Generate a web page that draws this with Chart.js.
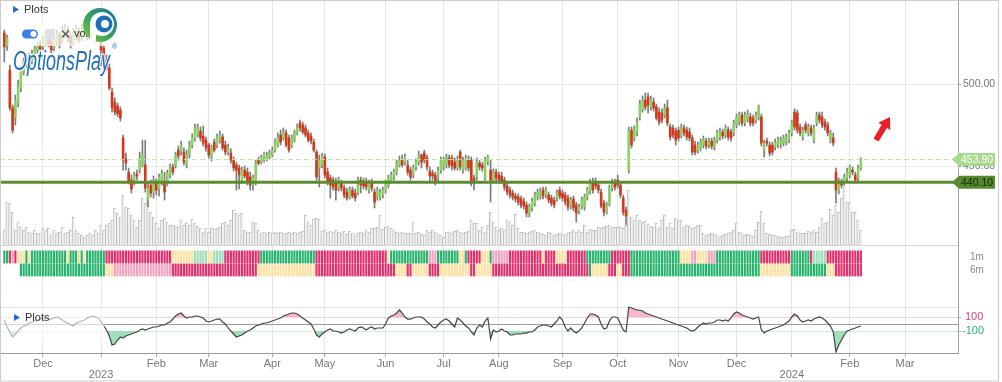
<!DOCTYPE html>
<html>
<head>
<meta charset="utf-8">
<script src="https://cdn.jsdelivr.net/npm/chart.js@4.4.1/dist/chart.umd.min.js"></script>
<style>
  html, body { margin: 0; padding: 0; background: #fff; }
  #wrap { width: 1002px; height: 382px; }
</style>
</head>
<body>
<div id="wrap"><canvas id="chart" width="1002" height="382"></canvas></div>
<script>
// ========== Data ==========
// x is a trading-day index: 0 = 1 Dec 2022, first candle = 10 Nov 2022
const firstDay = -14;
const axisMin = -15.56;
const axisMax = 331.16;

const monthTicks = [0, 21, 41, 60, 83, 102, 124, 145, 165, 188, 208, 230, 251, 271, 292, 312];
const monthLabels = ['Dec', ['', '2023'], 'Feb', 'Mar', 'Apr', 'May', 'Jun', 'Jul', 'Aug', 'Sep', 'Oct', 'Nov', 'Dec', ['', '2024'], 'Feb', 'Mar'];

const openP = [
  531.1, 523.2, 508.5, 485.4, 479.3, 488.4, 497.5, 507.3, 511.6, 516.5, 513.4, 517.1, 520.7, 524.4,
  522.6, 525.0, 529.3, 525.6, 521.9, 525.6, 529.9, 526.8, 529.9, 533.5, 529.3, 525.6, 529.3, 532.3, 528.7, 531.1, 534.1, 529.3, 531.7, 534.1, 529.3,
  528.0, 521.9, 514.6, 509.8, 495.1, 489.0, 486.6, 484.1, 467.1, 454.3, 446.3, 441.4, 440.2, 445.1, 447.5, 451.2, 450.6, 429.2, 438.4, 434.1,
  439.6, 436.0, 441.4, 440.2, 440.2, 444.5, 449.4, 450.6, 459.7, 458.5, 458.5, 450.6, 456.7, 462.8, 467.1, 469.5, 471.3, 468.3, 465.8,
  462.8, 455.5, 464.6, 462.8, 465.8, 467.7, 462.8, 458.5, 457.9, 453.6, 450.6, 448.8, 441.4, 447.5, 446.3, 443.3, 438.4, 439.6, 453.6, 452.4, 453.6, 454.3, 455.5,
  456.7, 459.7, 462.8, 468.9, 467.1, 470.1, 467.1, 462.8, 465.8, 470.1, 476.2, 475.0, 473.2, 470.1, 468.3, 464.6, 458.5, 448.8, 450.6,
  455.5, 446.3, 442.7, 441.4, 440.2, 436.6, 439.6, 436.6, 434.1, 431.1, 435.3, 433.5, 434.1, 441.4, 440.8, 440.8, 435.3, 440.2, 434.1, 431.1, 431.1, 432.3,
  435.3, 438.4, 441.4, 443.3, 446.3, 450.6, 453.6, 452.4, 450.6, 447.5, 444.5, 449.4, 452.4, 456.7, 457.9, 454.9, 446.9, 445.7, 444.5, 443.3, 447.5,
  449.4, 450.6, 454.9, 454.9, 452.4, 449.4, 458.5, 447.5, 449.4, 453.6, 453.6, 442.7, 443.3, 451.8, 450.6, 442.7, 452.4, 447.5, 441.4, 446.3,
  444.5, 443.9, 441.4, 437.8, 435.3, 433.5, 431.7, 431.1, 429.9, 428.6, 426.2, 420.7, 424.4, 427.4, 431.1, 431.7, 435.3, 432.3, 432.3, 430.5, 429.2, 430.5, 435.3,
  433.5, 432.3, 430.5, 425.6, 429.9, 426.2, 422.5, 425.6, 425.0, 431.1, 434.7, 439.6, 439.6, 438.4, 434.1, 427.4, 422.5, 427.4, 436.6, 439.6,
  441.4, 438.4, 430.5, 423.1, 447.5, 471.9, 467.1, 470.1, 479.9, 484.1, 490.2, 492.1, 486.0, 489.0, 486.0, 482.9, 482.3, 481.1, 485.4, 473.8, 473.2, 471.3,
  471.9, 468.9, 473.2, 471.9, 470.7, 467.1, 462.8, 459.7, 461.0, 462.8, 465.2, 462.8, 465.2, 461.6, 465.8, 467.7, 470.7, 468.9, 471.9, 470.7, 470.1,
  475.0, 476.8, 481.1, 476.2, 478.6, 479.9, 479.3, 478.0, 479.9, 479.9, 459.7, 465.2, 462.8, 462.8, 461.6, 462.8, 463.4, 464.0, 464.6, 465.8,
  470.1, 482.9, 482.3, 473.8, 467.7, 475.0, 470.1, 473.2, 465.8, 476.2, 481.1, 479.9, 476.8, 475.0, 465.8, 467.1, 446.3, 435.3, 440.2, 440.2, 442.7, 444.5, 447.5, 444.5, 442.7, 448.8
];

const highP = [
  532.9, 529.9, 511.6, 487.2, 493.3, 502.4, 510.4, 515.9, 518.3, 518.9, 520.7, 523.8, 525.6, 526.8,
  529.3, 532.9, 531.1, 528.0, 529.3, 532.9, 531.7, 535.4, 536.6, 535.4, 531.7, 534.1, 536.0, 534.1, 536.6, 537.8, 536.0, 535.4, 537.2, 536.6, 534.8,
  529.9, 523.8, 517.7, 512.2, 497.5, 491.5, 488.4, 486.0, 468.9, 457.9, 448.8, 444.5, 446.3, 447.5, 458.5, 465.8, 465.8, 439.6, 441.4, 443.9,
  442.1, 445.1, 447.5, 446.3, 447.5, 451.2, 451.2, 458.5, 462.2, 465.2, 461.0, 459.7, 465.2, 469.5, 475.6, 475.6, 473.8, 474.4, 467.7,
  464.0, 462.8, 466.5, 469.5, 471.3, 469.5, 465.2, 463.4, 460.4, 455.5, 452.4, 450.6, 449.4, 450.0, 448.8, 446.3, 444.5, 453.6, 455.5, 456.7, 458.5, 458.5, 459.7,
  461.6, 466.5, 470.1, 471.9, 473.2, 471.9, 468.9, 468.9, 471.9, 475.6, 478.0, 476.8, 475.0, 471.9, 470.1, 466.5, 459.7, 456.7, 457.9,
  457.3, 448.8, 444.5, 443.3, 442.7, 443.3, 441.4, 438.4, 436.6, 437.2, 437.2, 436.0, 443.3, 443.3, 442.7, 442.7, 441.4, 442.1, 436.0, 437.2, 436.0, 437.2,
  441.4, 444.5, 446.3, 448.2, 453.6, 456.1, 456.7, 457.3, 453.6, 449.4, 450.6, 454.3, 459.1, 457.3, 459.7, 456.7, 449.4, 447.5, 446.3, 449.4, 455.5,
  455.5, 457.3, 456.7, 456.7, 454.9, 456.1, 459.7, 455.5, 456.7, 456.1, 455.5, 444.5, 454.9, 453.6, 452.4, 455.5, 456.7, 453.6, 448.2, 448.2,
  446.3, 446.3, 443.3, 439.6, 437.2, 435.3, 433.5, 432.9, 431.7, 430.5, 428.0, 426.8, 430.5, 434.1, 436.0, 436.6, 437.2, 437.2, 434.1, 432.3, 431.1, 435.3, 437.2,
  435.3, 434.1, 432.3, 431.1, 431.7, 428.0, 426.8, 431.1, 432.9, 437.2, 442.1, 442.7, 442.7, 440.2, 436.0, 429.2, 428.0, 438.4, 442.1, 442.1,
  444.5, 440.2, 432.3, 425.0, 473.8, 473.8, 474.4, 479.3, 490.2, 492.7, 494.5, 494.5, 492.7, 491.5, 487.8, 485.4, 484.8, 487.8, 490.2, 475.6, 475.0, 473.2,
  473.8, 475.6, 475.0, 473.8, 473.2, 468.9, 465.2, 464.6, 466.5, 468.3, 467.1, 467.1, 467.1, 467.7, 471.9, 473.2, 472.5, 475.0, 473.8, 472.5, 478.0,
  481.7, 482.9, 482.9, 482.9, 484.1, 482.3, 481.1, 482.9, 487.2, 481.7, 465.8, 467.1, 464.6, 464.6, 466.5, 467.7, 467.7, 468.9, 469.5, 471.9,
  478.0, 484.8, 484.1, 475.6, 473.8, 476.8, 475.6, 475.0, 475.0, 482.9, 482.9, 482.9, 478.6, 476.8, 471.9, 470.1, 448.8, 442.7, 442.1, 445.1, 448.8, 450.6, 449.4, 446.3, 450.6, 455.0
];

const lowP = [
  513.4, 520.7, 484.1, 470.1, 475.0, 486.0, 495.1, 505.5, 509.8, 509.1, 512.2, 515.9, 518.9, 519.5,
  520.7, 523.2, 522.6, 518.9, 520.1, 523.8, 521.9, 525.0, 528.0, 525.6, 521.9, 523.8, 526.8, 525.0, 526.2, 529.3, 526.8, 527.4, 529.9, 528.0, 526.8,
  511.0, 510.4, 508.5, 496.3, 482.9, 481.1, 479.9, 477.4, 447.5, 447.5, 439.0, 433.5, 438.4, 441.4, 445.7, 449.4, 434.1, 425.0, 431.1, 430.5,
  432.3, 431.7, 438.4, 429.2, 437.8, 442.7, 444.5, 448.8, 453.6, 456.7, 450.6, 448.8, 454.9, 461.0, 465.2, 467.7, 465.2, 462.2, 459.1,
  454.9, 453.0, 458.5, 461.0, 464.0, 459.7, 456.7, 456.7, 451.8, 446.9, 435.3, 436.0, 439.6, 442.7, 438.4, 435.3, 435.3, 438.4, 450.6, 451.2, 452.4, 453.0, 454.3,
  455.5, 458.5, 461.6, 462.8, 465.8, 461.6, 458.5, 461.0, 464.6, 468.9, 471.3, 469.5, 467.7, 464.6, 463.4, 458.5, 441.4, 437.2, 448.8,
  442.7, 438.4, 430.5, 435.3, 429.2, 434.7, 434.7, 430.5, 429.2, 429.9, 430.5, 428.6, 432.3, 433.5, 436.0, 435.3, 433.5, 434.7, 424.4, 429.2, 429.2, 430.5,
  433.5, 436.6, 439.6, 441.4, 444.5, 449.4, 449.4, 450.6, 444.5, 441.4, 442.7, 447.5, 450.6, 448.8, 451.8, 447.5, 440.2, 441.4, 438.4, 440.2, 445.7,
  447.5, 448.8, 448.8, 447.5, 447.5, 447.5, 447.5, 445.7, 447.5, 446.9, 437.8, 435.3, 441.4, 447.5, 446.9, 441.4, 450.6, 428.0, 439.6, 440.8,
  439.6, 439.6, 435.3, 432.3, 430.5, 429.2, 428.0, 426.2, 424.4, 423.8, 418.9, 418.9, 422.5, 425.6, 429.2, 429.9, 429.9, 430.5, 427.4, 425.6, 424.4, 428.6, 429.9,
  428.6, 426.2, 423.1, 423.8, 422.5, 415.8, 420.7, 423.8, 423.1, 429.2, 432.9, 433.5, 436.0, 433.5, 424.4, 419.5, 420.7, 425.6, 434.7, 435.3,
  436.6, 430.5, 420.1, 414.0, 445.7, 461.0, 465.2, 468.3, 478.0, 482.9, 484.1, 482.3, 484.1, 483.5, 478.0, 475.0, 476.2, 479.3, 474.4, 465.8, 467.1, 462.8,
  465.2, 467.1, 468.3, 465.8, 465.2, 456.7, 456.7, 457.9, 459.1, 461.0, 460.4, 461.0, 460.4, 459.7, 464.0, 465.8, 466.5, 467.1, 465.8, 465.2, 468.3,
  473.2, 475.0, 474.4, 474.4, 476.8, 474.4, 474.4, 476.2, 478.0, 462.2, 455.5, 462.2, 456.1, 456.7, 459.7, 461.0, 461.0, 462.2, 462.8, 464.0,
  468.3, 471.9, 470.1, 468.3, 465.8, 470.1, 468.3, 468.3, 464.0, 474.4, 476.2, 473.2, 471.9, 468.3, 464.0, 462.2, 427.4, 432.9, 436.6, 438.4, 440.8, 442.7, 444.5, 439.6, 440.8, 447.5
];

const closeP = [
  522.6, 528.0, 485.4, 471.9, 490.2, 499.4, 508.5, 513.4, 516.5, 511.0, 518.3, 521.9, 523.8, 521.3,
  526.8, 529.3, 524.4, 520.7, 526.8, 529.9, 523.8, 531.7, 534.1, 528.0, 524.4, 531.1, 532.9, 526.8, 533.5, 534.8, 529.3, 532.9, 534.8, 529.9, 532.9,
  520.7, 513.4, 509.8, 497.5, 485.4, 482.9, 481.7, 479.3, 453.6, 451.8, 440.8, 436.0, 444.5, 443.9, 454.9, 456.7, 436.6, 436.6, 433.5, 441.4,
  435.3, 443.3, 445.7, 434.1, 445.7, 449.4, 446.3, 456.7, 456.1, 462.8, 452.4, 456.7, 462.8, 467.1, 473.2, 473.8, 467.1, 464.0, 461.0,
  456.7, 461.0, 459.7, 467.7, 468.9, 461.0, 458.5, 461.6, 453.6, 448.8, 447.5, 444.5, 447.5, 443.9, 440.2, 438.4, 442.7, 451.8, 451.8, 454.9, 456.7, 456.7, 457.9,
  459.7, 464.6, 467.1, 464.6, 470.7, 462.8, 459.7, 467.1, 470.1, 473.8, 473.2, 470.7, 468.9, 465.8, 465.2, 459.7, 443.3, 453.6, 456.1,
  444.5, 440.2, 438.4, 437.2, 435.3, 441.4, 436.6, 432.3, 430.5, 435.3, 431.7, 430.5, 441.4, 438.4, 437.8, 437.2, 439.6, 436.6, 428.0, 435.3, 434.1, 435.3,
  439.6, 442.7, 444.5, 446.3, 451.8, 453.6, 450.6, 455.5, 446.3, 443.3, 448.8, 452.4, 456.7, 452.4, 453.6, 449.4, 443.9, 443.9, 440.2, 447.5, 453.6,
  453.6, 455.5, 450.6, 450.0, 448.8, 453.6, 449.4, 453.6, 454.9, 448.8, 439.6, 439.6, 452.4, 449.4, 448.8, 453.6, 455.5, 441.4, 446.3, 442.7,
  441.4, 440.8, 437.2, 434.1, 432.3, 431.1, 429.9, 428.0, 426.2, 425.6, 421.3, 425.0, 428.6, 432.3, 434.1, 434.7, 431.7, 435.3, 429.2, 427.4, 426.2, 433.5, 431.7,
  430.5, 428.0, 425.0, 429.2, 424.4, 421.3, 425.0, 429.2, 431.1, 435.3, 440.2, 435.3, 437.8, 435.3, 425.6, 421.9, 426.2, 436.6, 440.2, 437.2,
  438.4, 432.3, 421.9, 419.5, 471.9, 462.8, 471.9, 476.8, 487.8, 490.2, 486.0, 487.2, 490.2, 485.4, 479.3, 476.8, 478.0, 485.4, 476.2, 467.7, 468.9, 465.8,
  467.1, 473.8, 470.1, 467.7, 467.1, 458.5, 458.5, 462.8, 464.6, 466.5, 462.2, 465.2, 462.2, 465.8, 470.1, 470.7, 468.3, 473.2, 467.7, 467.1, 476.2,
  479.9, 481.1, 476.2, 481.1, 481.7, 476.2, 476.2, 481.1, 485.4, 464.0, 464.0, 464.0, 457.9, 458.5, 464.6, 465.8, 465.8, 467.1, 467.7, 470.1,
  476.2, 473.8, 471.9, 470.1, 471.9, 471.9, 473.8, 470.1, 473.2, 481.1, 478.0, 475.0, 473.8, 470.1, 470.1, 464.0, 435.3, 439.6, 438.4, 443.3, 446.3, 449.4, 446.3, 441.4, 448.8, 453.9
];

// volume in thousands of shares
const volumeK = [
  750, 2150, 2100, 1650, 750, 1150, 900, 750, 900, 650, 600, 750, 600, 600,
  850, 750, 850, 500, 750, 600, 650, 900, 600, 650, 750, 1400, 750, 600, 500, 400, 500, 600, 500, 750, 600,
  1000, 750, 1000, 1100, 1250, 1850, 1600, 1400, 2500, 1900, 1850, 1500, 1250, 900, 1250, 2350, 2100, 2400, 1650, 1400,
  1100, 850, 1250, 1350, 1150, 1000, 1000, 950, 900, 1250, 1000, 1100, 1000, 1300, 1100, 950, 850, 650, 850,
  650, 850, 800, 850, 900, 1100, 1150, 1000, 1250, 1750, 1600, 1500, 1600, 750, 650, 650, 1150, 1100, 750, 600, 650, 600, 650,
  600, 650, 600, 650, 600, 600, 650, 600, 650, 600, 650, 700, 1500, 1150, 1000, 1300, 1350, 1300, 700,
  750, 650, 700, 650, 750, 650, 600, 700, 550, 700, 600, 500, 600, 650, 600, 750, 650, 850, 850, 900, 1500, 800,
  900, 950, 850, 750, 650, 600, 650, 600, 600, 600, 1150, 600, 650, 550, 500, 750, 650, 750, 650, 550, 500,
  400, 650, 650, 600, 700, 750, 650, 600, 650, 700, 1250, 1100, 1100, 750, 900, 650, 1000, 1650, 1150, 900,
  750, 850, 750, 1250, 1150, 1000, 1550, 850, 650, 650, 600, 650, 700, 750, 650, 600, 550, 500, 650, 600, 500, 550, 600,
  550, 500, 600, 650, 750, 650, 750, 650, 1000, 650, 800, 750, 750, 900, 850, 900, 950, 1000, 900, 900,
  900, 900, 850, 950, 2750, 1400, 1250, 1500, 1250, 1150, 1200, 1050, 950, 900, 1100, 850, 1250, 1500, 900, 1100, 850, 1350,
  1250, 1250, 900, 1000, 950, 850, 900, 1000, 1000, 600, 500, 550, 600, 550, 500, 400, 500, 550, 600, 650, 750,
  1100, 650, 600, 500, 550, 500, 450, 750, 1150, 1700, 1100, 600, 550, 500, 500, 450, 400, 400, 450, 450,
  750, 800, 650, 600, 600, 600, 700, 650, 750, 650, 900, 1350, 1100, 1150, 1800, 1500, 2000, 1650, 2350, 3000, 2150, 2150, 1650, 1650, 1250, 750
];

// oscillator ("Plots" lower pane)
const oscValues = [
  57, -43, -114, -186, -143, -100, -57, -29, -14, 14, 29, 43, 57, 71,
  86, 86, 71, 71, 86, 100, 86, 57, 29, 14, -14, -29, 14, 29, 43, 57, 86, 100, 114, 100, 86,
  29, -29, -86, -171, -300, -286, -229, -186, -200, -171, -157, -143, -129, -114, -86, -71, -86, -71, -57, -43,
  -43, -29, -14, -14, 14, 29, 71, 114, 143, 157, 114, 86, 100, 100, 114, 114, 100, 86, 43,
  29, 43, 57, 71, 71, 29, 0, -57, -100, -143, -186, -171, -157, -129, -100, -86, -57, -29, -14, 0, 14, 14, 29,
  43, 57, 71, 86, 114, 129, 143, 157, 157, 143, 114, 86, 57, 29, 0, -71, -157, -186, -143,
  -114, -86, -71, -100, -100, -114, -129, -114, -86, -71, -86, -100, -57, -43, -57, -86, -57, -43, -71, -57, -57, -57,
  0, 86, 114, 129, 157, 200, 157, 100, 71, 71, 86, 100, 100, 100, 71, 29, 0, -43, -57, -14, 29,
  57, 71, 43, 0, -43, 86, 57, 14, -29, -57, -114, -157, -57, -14, -43, 43, 86, -214, -86, -114,
  -100, -71, -100, -114, -157, -157, -143, -143, -143, -129, -129, -114, -114, -86, -43, -29, -14, -14, -29, -43, 0, 43, 100,
  57, -43, -100, -57, -100, -129, -100, -57, 14, 86, 143, 143, 129, 100, 0, -71, -57, 43, 100, 100,
  86, 0, -86, -114, 243, 229, 214, 200, 200, 186, 157, 143, 129, 114, 100, 86, 71, 57, 43, 29, 14, 0,
  -14, -29, -43, -57, -86, -100, -86, -43, -14, 14, 0, 14, 14, 29, 57, 57, 43, 57, 43, 86, 143,
  171, 157, 129, 114, 100, 86, 71, 86, 100, -86, -129, -100, -86, -71, -57, -43, -29, -14, 14, 43,
  100, 143, 114, 57, 29, 43, 57, 43, 71, 86, 100, 86, 57, 14, -29, -114, -400, -300, -229, -157, -100, -86, -71, -57, -43, -29
];
const oscLevels = [100, -100];

// signal rows, run-length: code + number of days (G/g green, R/r pink, Y yellow, - none)
const row1m = ['G2', 'R1', 'r1', 'R1', 'Y3', 'G1', 'Y1', 'G13', 'Y1', 'G3', 'Y1', 'G1', 'Y1', 'G7', 'R24', 'Y8', 'g5', 'Y2', 'g4', 'R13',
  'G20', 'R26', 'Y1', 'G14', 'r3', 'G8', 'Y2', 'G1', 'R5', 'Y3', 'G1', 'r6', 'R12', 'Y1', 'R4', 'Y4', 'R7', 'G9', 'R7', 'G18',
  'Y4', 'r2', 'Y4', 'r3', 'G16', 'R11', 'G7', 'R1', 'g5', 'R13'];
const row6m = ['-6', 'G31', 'Y3', 'r21', 'R31', 'Y21', 'R29', 'Y4', 'R2', 'Y6', 'R4', 'Y11', 'R2', 'Y6', 'R35', 'G1', 'Y6', 'R3',
  'Y2', 'R3', 'G47', 'Y11', 'G13', 'Y3', 'R10'];

const lastPrice = 453.90;
const supportPrice = 440.10;
const priceGrid = [450, 500];

// ========== Utils ==========
const fam = "'Liberation Sans', Arial, sans-serif";
const signalColors = { G: '#27b36d', g: '#9fdebb', R: '#e02f6b', r: '#f3a2bf', Y: '#fde1a3' };

function expandRuns(runs) {
  const out = [];
  runs.forEach(r => {
    const code = r[0];
    const n = parseInt(r.slice(1), 10);
    for (let k = 0; k < n; k++) out.push(code);
  });
  return out;
}

function signalRow(runs, lo, hi) {
  const data = [], colors = [];
  expandRuns(runs).forEach((c, k) => {
    if (c === '-') return;
    data.push({ x: firstDay + k, y: [lo, hi] });
    colors.push(signalColors[c]);
  });
  return { data, colors };
}

const days = openP.map((_, k) => firstDay + k);
const wickData = days.map((x, k) => ({ x, y: [lowP[k], highP[k]] }));
const bodyData = days.map((x, k) => ({ x, y: [openP[k], closeP[k]] }));
const bodyColors = days.map((_, k) => closeP[k] >= openP[k] ? '#8dcf67' : '#d2391a');
const volData = days.map((x, k) => ({ x, y: volumeK[k] }));
const oscData = days.map((x, k) => ({ x, y: oscValues[k] }));
const sig1m = signalRow(row1m, 1, 1.94);
const sig6m = signalRow(row6m, 0, 0.94);

// ========== Decorations ==========
function tag(ctx, x, y, text, bg, fg) {
  ctx.fillStyle = bg;
  ctx.beginPath();
  ctx.moveTo(x - 7, y);
  ctx.lineTo(x, y - 6.5);
  ctx.lineTo(x + 36, y - 6.5);
  ctx.lineTo(x + 36, y + 6.5);
  ctx.lineTo(x, y + 6.5);
  ctx.closePath();
  ctx.fill();
  ctx.fillStyle = fg;
  ctx.fillText(text, x + 2, y + 0.5);
}

function drawLogo(ctx) {
  const cx = 100, cy = 25, r = 17;
  const g = ctx.createLinearGradient(cx - r, cy + r, cx + r, cy - r);
  g.addColorStop(0, '#8dc63f');
  g.addColorStop(0.45, '#35a35c');
  g.addColorStop(1, '#1b6cb5');
  ctx.fillStyle = g;
  ctx.beginPath(); ctx.arc(cx, cy, r, 0, Math.PI * 2); ctx.fill();
  ctx.fillStyle = '#fff';
  ctx.beginPath(); ctx.arc(cx + 2, cy - 1, 12, 0, Math.PI * 2); ctx.fill();
  ctx.fillRect(cx - 10, cy - 1, 6, 17);
  ctx.fillStyle = '#1d6fb8';
  ctx.beginPath(); ctx.arc(cx + 4, cy - 1, 8.5, 0, Math.PI * 2); ctx.fill();
  ctx.fillStyle = '#fff';
  ctx.beginPath(); ctx.arc(cx + 5, cy - 1, 4, 0, Math.PI * 2); ctx.fill();

  ctx.save();
  ctx.font = 'italic 27px ' + fam;
  const w = ctx.measureText('OptionsPlay').width;
  ctx.translate(13, 62);
  ctx.scale(97 / w, 1);
  ctx.lineWidth = 3;
  ctx.strokeStyle = 'rgba(255,255,255,0.85)';
  ctx.strokeText('OptionsPlay', 0, 0);
  ctx.fillStyle = '#1f6ec0';
  ctx.fillText('OptionsPlay', 0, 0);
  ctx.restore();
  ctx.font = '7px ' + fam;
  ctx.fillStyle = '#1f6ec0';
  ctx.fillText('\u00AE', 112, 47);
}

function plotsLegend(ctx, x, y) {
  ctx.fillStyle = '#2a63d8';
  ctx.beginPath();
  ctx.moveTo(x, y - 4); ctx.lineTo(x, y + 3); ctx.lineTo(x + 6, y - 0.5); ctx.closePath();
  ctx.fill();
  ctx.fillStyle = '#333';
  ctx.font = '11px ' + fam;
  ctx.textBaseline = 'middle';
  ctx.fillText('Plots', x + 11, y);
}

const panes = {
  id: 'panes',
  beforeDatasetsDraw(chart) {
    const { ctx, chartArea: a, scales: s } = chart;
    ctx.save();
    const hline = (y, color) => {
      ctx.strokeStyle = color; ctx.lineWidth = 1;
      ctx.beginPath();
      ctx.moveTo(a.left, Math.round(y) + 0.5);
      ctx.lineTo(a.right, Math.round(y) + 0.5);
      ctx.stroke();
    };
    priceGrid.forEach(p => hline(s.yP.getPixelForValue(p), '#ebebeb'));
    hline(s.yV.getPixelForValue(0), '#d4d4d4');
    hline(s.yO.getPixelForValue(240), '#e3e3e3');
    hline(s.yO.getPixelForValue(oscLevels[0]), '#f7d0dd');
    hline(s.yO.getPixelForValue(oscLevels[1]), '#cfeedd');
    hline(s.yO.getPixelForValue(0), '#9c9c9c');
    ctx.restore();
  },
  afterDraw(chart) {
    const { ctx, chartArea: a, scales: s } = chart;
    ctx.save();

    // faded legend panels
    ctx.fillStyle = 'rgba(255,255,255,0.72)';
    ctx.fillRect(18, 23, 100, 23);
    ctx.fillStyle = 'rgba(255,255,255,0.6)';
    ctx.fillRect(0, s.yO.getPixelForValue(240) + 1, 104, 32);

    // right axis
    ctx.strokeStyle = '#a3a3a3';
    ctx.lineWidth = 1;
    ctx.beginPath();
    ctx.moveTo(a.right + 0.5, a.top);
    ctx.lineTo(a.right + 0.5, a.bottom);
    ctx.stroke();

    ctx.font = '10.5px ' + fam;
    ctx.textBaseline = 'middle';
    ctx.textAlign = 'left';
    const tick = y => {
      ctx.beginPath();
      ctx.moveTo(a.right, Math.round(y) + 0.5);
      ctx.lineTo(a.right + 3, Math.round(y) + 0.5);
      ctx.stroke();
    };
    priceGrid.forEach(p => {
      const y = s.yP.getPixelForValue(p);
      tick(y);
      ctx.fillStyle = '#777';
      ctx.fillText(p.toFixed(2), a.right + 5, y);
    });
    tag(ctx, a.right + 1, s.yP.getPixelForValue(lastPrice), lastPrice.toFixed(2), '#a8d98c', '#ffffff');
    tag(ctx, a.right + 1, s.yP.getPixelForValue(supportPrice), supportPrice.toFixed(2), '#578a2c', '#16240c');

    ctx.font = '10px ' + fam;
    ctx.fillStyle = '#8a8a8a';
    ctx.fillText('1m', a.right + 12, s.yI.getPixelForValue(1.47));
    ctx.fillText('6m', a.right + 12, s.yI.getPixelForValue(0.47));

    ctx.font = '11px ' + fam;
    [[oscLevels[0], '#e23d74', 7], [oscLevels[1], '#2cb46a', 4]].forEach(([v, c, dx]) => {
      const y = s.yO.getPixelForValue(v);
      ctx.strokeStyle = '#a3a3a3';
      tick(y);
      ctx.fillStyle = c;
      ctx.fillText(String(v), a.right + dx, y);
    });

    // legends
    plotsLegend(ctx, 13, 10);
    plotsLegend(ctx, 14, s.yO.getPixelForValue(100) + 1);
    ctx.fillStyle = '#3a7ee6';
    ctx.beginPath();
    ctx.roundRect(22, 29.5, 16, 9, 4.5);
    ctx.fill();
    ctx.fillStyle = '#fff';
    ctx.beginPath(); ctx.arc(33.5, 34, 3, 0, Math.PI * 2); ctx.fill();
    ctx.fillStyle = '#e2e2e2';
    ctx.fillRect(46, 29, 9, 10);
    ctx.strokeStyle = '#555';
    ctx.lineWidth = 1.3;
    ctx.beginPath();
    ctx.moveTo(62, 30.5); ctx.lineTo(69, 37.5);
    ctx.moveTo(69, 30.5); ctx.lineTo(62, 37.5);
    ctx.stroke();
    ctx.fillStyle = '#333';
    ctx.font = '11px ' + fam;
    ctx.fillText('vol', 74, 34);

    drawLogo(ctx);

    // arrow
    ctx.fillStyle = '#e8202a';
    ctx.beginPath();
    ctx.moveTo(890, 117);
    ctx.lineTo(890.2, 130.0);
    ctx.lineTo(886.9, 128.0);
    ctx.lineTo(878.5, 141.6);
    ctx.lineTo(873.5, 138.4);
    ctx.lineTo(881.7, 124.8);
    ctx.lineTo(878.3, 122.8);
    ctx.closePath();
    ctx.fill();

    // frame
    ctx.strokeStyle = '#cccccc';
    ctx.lineWidth = 1;
    ctx.strokeRect(0.5, 0.5, 998, 380.5);
    ctx.restore();
  }
};

// ========== Chart ==========
Chart.defaults.font.family = fam;

new Chart(document.getElementById('chart'), {
  type: 'bar',
  data: {
    datasets: [
      { type: 'line', data: [{ x: axisMin, y: supportPrice }, { x: axisMax, y: supportPrice }], yAxisID: 'yP',
        borderColor: '#5b8c2d', borderWidth: 3, pointRadius: 0 },
      { type: 'line', data: [{ x: axisMin, y: lastPrice }, { x: axisMax, y: lastPrice }], yAxisID: 'yP',
        borderColor: '#bfe2a9', borderWidth: 1, borderDash: [5, 3], pointRadius: 0 },
      { data: bodyData, yAxisID: 'yP', backgroundColor: bodyColors, barThickness: 2, grouped: false },
      { data: wickData, yAxisID: 'yP', backgroundColor: '#7b7b7b', barThickness: 1, grouped: false },
      { type: 'line', data: oscData, yAxisID: 'yO', borderColor: '#444', borderWidth: 1.2, pointRadius: 0,
        fill: { target: { value: oscLevels[0] }, above: 'rgba(241,160,188,0.75)', below: 'rgba(0,0,0,0)' } },
      { type: 'line', data: oscData, yAxisID: 'yO', borderWidth: 0, borderColor: 'rgba(0,0,0,0)', pointRadius: 0,
        fill: { target: { value: oscLevels[1] }, above: 'rgba(0,0,0,0)', below: 'rgba(128,214,166,0.75)' } },
      { data: sig1m.data, yAxisID: 'yI', backgroundColor: sig1m.colors, barThickness: 1.5, grouped: false },
      { data: sig6m.data, yAxisID: 'yI', backgroundColor: sig6m.colors, barThickness: 1.5, grouped: false },
      { data: volData, yAxisID: 'yV', backgroundColor: '#f1f1f1', borderColor: '#bababa',
        borderWidth: { left: 1, top: 1, right: 0, bottom: 0 }, borderSkipped: false, barThickness: 2.6, grouped: false }
    ]
  },
  options: {
    responsive: false,
    animation: false,
    devicePixelRatio: 1,
    events: [],
    layout: { padding: { left: 0, right: 44, top: 0, bottom: 0 } },
    plugins: { legend: { display: false }, tooltip: { enabled: false } },
    scales: {
      x: {
        type: 'linear', min: axisMin, max: axisMax, offset: false,
        afterBuildTicks: s => { s.ticks = monthTicks.map(v => ({ value: v })); },
        afterFit: s => { s.height = 29; },
        ticks: { autoSkip: false, maxRotation: 0, padding: 1, color: '#777', font: { size: 11, lineHeight: 1.0 },
          callback: (v, i) => monthLabels[i] },
        grid: { color: '#e6e6e6', offset: false, tickLength: 4, tickColor: '#aaa' },
        border: { color: '#9a9a9a' }
      },
      yP: { display: false, min: 335.98, max: 551.22 },
      yV: { display: false, min: -5400, max: 12250 },
      yI: { display: false, min: -5.92, max: 21.23 },
      yO: { display: false, min: -414.3, max: 4628.6 }
    }
  },
  plugins: [panes]
});
</script>
</body>
</html>
